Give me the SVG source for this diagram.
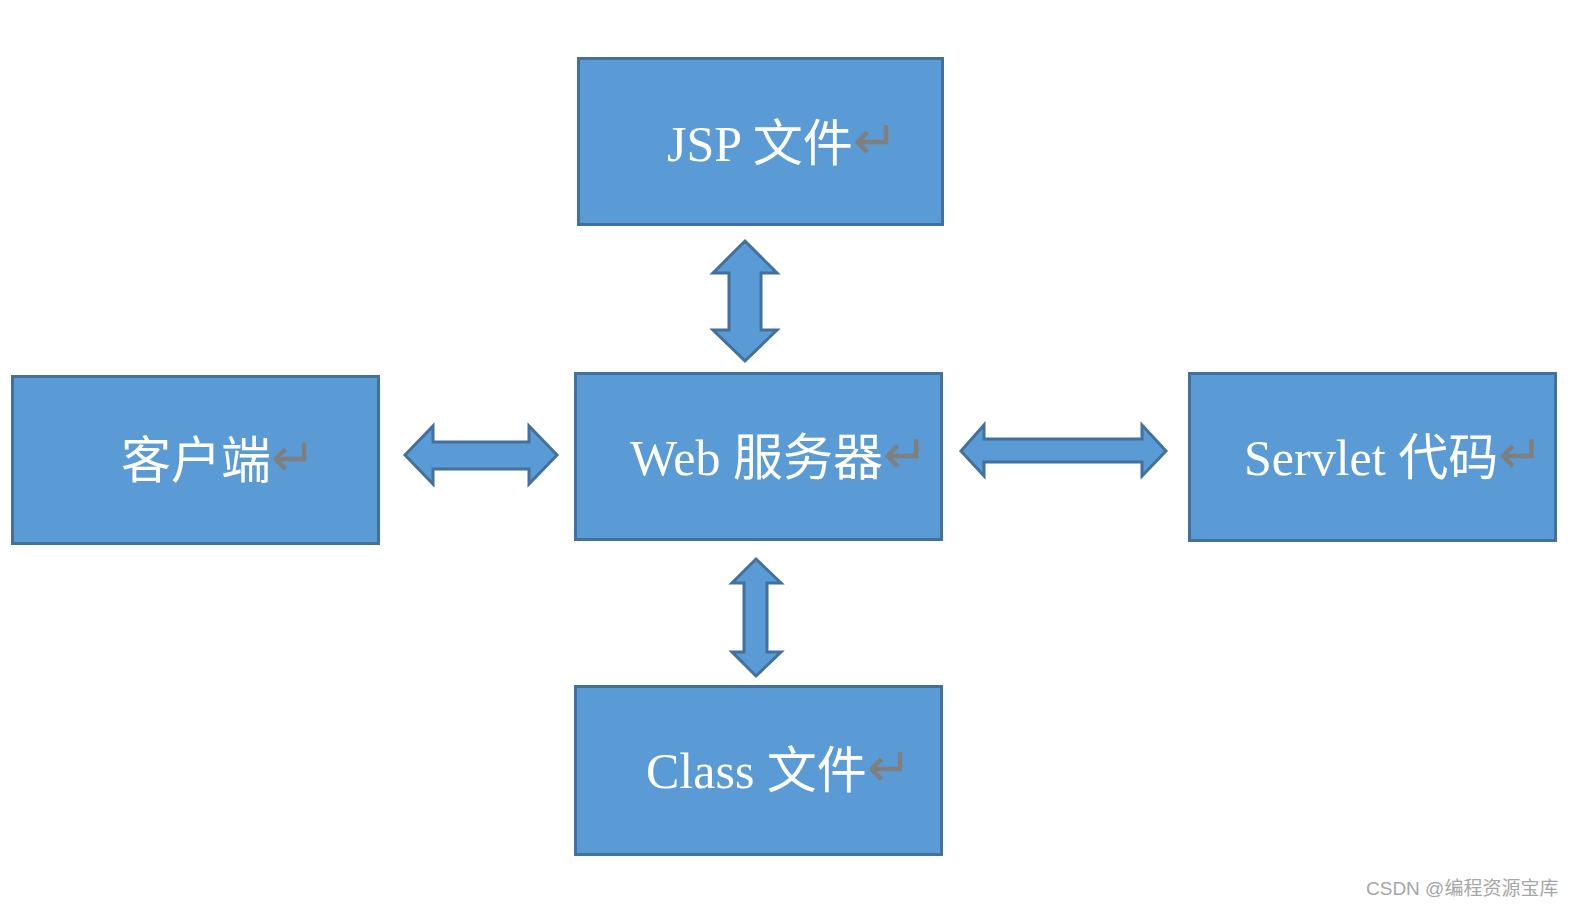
<svg xmlns="http://www.w3.org/2000/svg" width="1574" height="908" viewBox="0 0 1574 908">
  <style>
    .box { fill: #5B9BD5; stroke: #41719C; stroke-width: 3; }
    .arrow { fill: #5B9BD5; stroke: #41719C; stroke-width: 3; stroke-linejoin: miter; }
    .label { font-family: "Liberation Serif", "Noto Sans CJK SC", serif; font-size: 50px; fill: #FFFFFF; }
    .mark { font-family: "DejaVu Sans", sans-serif; font-size: 54px; fill: #7F7F7F; }
    .wm { font-family: "Liberation Sans", "Noto Sans CJK SC", sans-serif; font-size: 19px; fill: #A6A6A6; }
  </style>
  <rect width="1574" height="908" fill="#FFFFFF"/>

  <g id="connectors">
    <polygon class="arrow" points="745,241 777,273 761,273 761,330 777,330 745,361 713,330 729,330 729,273 713,273"/>
    <polygon class="arrow" points="756,559 781,583 767,583 767,652 781,652 756,676 732,652 744,652 744,583 732,583"/>
    <polygon class="arrow" points="405,455 433,426 433,442 529,442 529,426 557,455 529,484 529,469 433,469 433,484"/>
    <polygon class="arrow" points="961,451 984,425 984,439 1142,439 1142,425 1166,451 1142,476 1142,462 984,462 984,476"/>
  </g>

  <g id="node-jsp">
    <rect class="box" x="578.5" y="58.5" width="364" height="166"/>
    <text class="label" x="667" y="161">JSP 文件<tspan class="mark" dy="-2">↵</tspan></text>
  </g>

  <g id="node-client">
    <rect class="box" x="12.5" y="376.5" width="366" height="167"/>
    <text class="label" x="121" y="478">客户端<tspan class="mark" dy="-2">↵</tspan></text>
  </g>

  <g id="node-web">
    <rect class="box" x="575.5" y="373.5" width="366" height="166"/>
    <text class="label" x="630" y="475">Web 服务器<tspan class="mark" dy="-2">↵</tspan></text>
  </g>

  <g id="node-servlet">
    <rect class="box" x="1189.5" y="373.5" width="366" height="167"/>
    <text class="label" x="1244" y="475">Servlet 代码<tspan class="mark" dy="-2">↵</tspan></text>
  </g>

  <g id="node-class">
    <rect class="box" x="575.5" y="686.5" width="366" height="168"/>
    <text class="label" x="646" y="788">Class 文件<tspan class="mark" dy="-2">↵</tspan></text>
  </g>

  <text class="wm" x="1366" y="895">CSDN @编程资源宝库</text>
</svg>
